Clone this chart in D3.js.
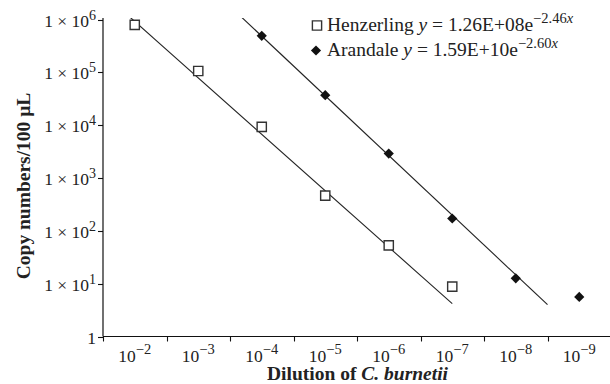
<!DOCTYPE html>
<meta charset="utf-8">
<style>
html, body { margin: 0; padding: 0; background: #fff; }
svg { display: block; font-family: "Liberation Serif", "Times New Roman", serif; }
</style>
<body>
<script src="https://d3js.org/d3.v7.min.js"></script>
<script>

// dilution exponents (10^-n) shown on the x axis
var dilutions = [2, 3, 4, 5, 6, 7, 8, 9];
var yTicks = [1, 1e1, 1e2, 1e3, 1e4, 1e5, 1e6];

// Henzerling series
var henzDil = [2, 3, 4, 5, 6, 7];
var henzCopies = [7.9e5, 1.06e5, 9.3e3, 463, 53, 8.8];
var henzFit = [1.26e8, 2.46];
var henzFitRange = [1.5, 7];

// Arandale series
var arandDil = [4, 5, 6, 7, 8, 9];
var arandCopies = [4.9e5, 3.7e4, 2.9e3, 171, 12.6, 5.6];
var arandFit = [1.59e10, 2.60];
var arandFitRange = [3.5, 8.5];

var width = 610,
    height = 384;

var plotLeft = 103, plotRight = 611, plotTop = 19.5, plotBottom = 336.5;

var x = d3.scaleLinear().domain([1.5, 9.5]).range([plotLeft, plotRight]);
var y = d3.scaleLog().domain([1, 1e6]).range([plotBottom, plotTop]);

var svg = d3.select("body").append("svg")
    .attr("width", width)
    .attr("height", height);

svg.append("clipPath").attr("id", "plot")
  .append("rect")
    .attr("x", plotLeft).attr("y", 18)
    .attr("width", plotRight - plotLeft).attr("height", plotBottom - 18);

// y axis
var yAxis = svg.append("g");
yAxis.append("line")
    .attr("x1", plotLeft).attr("x2", plotLeft)
    .attr("y1", 18).attr("y2", plotBottom)
    .attr("stroke", "#111").attr("stroke-width", 1.2);

yTicks.forEach(function(v){
  var ty = Math.round(y(v)) + 0.5;
  yAxis.append("line")
      .attr("x1", plotLeft - 5).attr("x2", plotLeft)
      .attr("y1", ty).attr("y2", ty)
      .attr("stroke", "#111").attr("stroke-width", 1.1);
  var t = yAxis.append("text")
      .attr("x", plotLeft - 7).attr("y", ty + 6)
      .attr("text-anchor", "end")
      .attr("font-size", 17.5)
      .attr("fill", "#222");
  var e = Math.round(Math.log10(v));
  if (e === 0) {
    t.text("1");
  } else {
    t.append("tspan").text("1 \u00d7 10");
    t.append("tspan").attr("dy", -7).attr("font-size", 14).text(e);
  }
});

// x axis
var xAxis = svg.append("g");
xAxis.append("line")
    .attr("x1", plotLeft).attr("x2", width)
    .attr("y1", plotBottom).attr("y2", plotBottom)
    .attr("stroke", "#111").attr("stroke-width", 1.2);

d3.range(1.5, 9.5, 1).forEach(function(b){
  var tx = Math.round(x(b)) + 0.5;
  xAxis.append("line")
      .attr("x1", tx).attr("x2", tx)
      .attr("y1", plotBottom).attr("y2", plotBottom + 5)
      .attr("stroke", "#111").attr("stroke-width", 1.1);
});

dilutions.forEach(function(d){
  var t = xAxis.append("text")
      .attr("x", x(d)).attr("y", 362)
      .attr("text-anchor", "middle")
      .attr("font-size", 17.5)
      .attr("fill", "#222");
  t.append("tspan").text("10");
  t.append("tspan").attr("dy", -8).attr("font-size", 14.5).text("\u2212" + d);
});

// axis titles
svg.append("text")
    .attr("transform", "translate(30," + ((plotTop + plotBottom) / 2 + 8) + ") rotate(-90)")
    .attr("text-anchor", "middle")
    .attr("font-size", 19.5)
    .attr("font-weight", "bold")
    .attr("fill", "#222")
    .text("Copy numbers/100 \u03bcL");

var xl = svg.append("text")
    .attr("x", 357.5).attr("y", 380)
    .attr("text-anchor", "middle")
    .attr("font-size", 19.5)
    .attr("font-weight", "bold")
    .attr("fill", "#222");
xl.append("tspan").text("Dilution of ");
xl.append("tspan").attr("font-style", "italic").text("C. burnetii");

// trend lines
function fitLine(fit, range){
  return range.map(function(d){ return [d, fit[0] * Math.exp(-fit[1] * d)]; });
}

var line = d3.line()
    .x(function(d){ return x(d[0]); })
    .y(function(d){ return y(d[1]); });

var lines = svg.append("g").attr("clip-path", "url(#plot)");
[[henzFit, henzFitRange], [arandFit, arandFitRange]].forEach(function(f){
  lines.append("path")
      .datum(fitLine(f[0], f[1]))
      .attr("fill", "none")
      .attr("stroke", "#222")
      .attr("stroke-width", 1.1)
      .attr("d", line);
});

// markers
var square = d3.symbol().type(d3.symbolSquare).size(85);
var diamond = d3.symbol().type(d3.symbolSquare).size(52);

svg.append("g").selectAll("path")
    .data(d3.zip(henzDil, henzCopies))
    .enter().append("path")
    .attr("transform", function(d){ return "translate(" + x(d[0]) + "," + y(d[1]) + ")"; })
    .attr("d", square)
    .attr("fill", "#fff")
    .attr("stroke", "#333")
    .attr("stroke-width", 1.4);

svg.append("g").selectAll("path")
    .data(d3.zip(arandDil, arandCopies))
    .enter().append("path")
    .attr("transform", function(d){ return "translate(" + x(d[0]) + "," + y(d[1]) + ") rotate(45)"; })
    .attr("d", diamond)
    .attr("fill", "#111");

// legend
var legend = svg.append("g");
legend.append("path")
    .attr("transform", "translate(317,25.5)")
    .attr("d", square)
    .attr("fill", "#fff")
    .attr("stroke", "#333")
    .attr("stroke-width", 1.4);
legend.append("path")
    .attr("transform", "translate(316,50.5) rotate(45)")
    .attr("d", diamond)
    .attr("fill", "#111");

function legendText(yPos, name, coef, exp){
  var t = legend.append("text")
      .attr("x", 327).attr("y", yPos)
      .attr("font-size", 19.5)
      .attr("fill", "#222");
  t.append("tspan").text(name + " ");
  t.append("tspan").attr("font-style", "italic").text("y");
  t.append("tspan").text(" = " + coef + "e");
  t.append("tspan").attr("dy", -8).attr("font-size", 14.5).text("\u2212" + exp);
  t.append("tspan").attr("font-size", 14.5).attr("font-style", "italic").text("x");
}
legendText(31, "Henzerling", "1.26E+08", "2.46");
legendText(55.5, "Arandale", "1.59E+10", "2.60");

</script>
</body>
